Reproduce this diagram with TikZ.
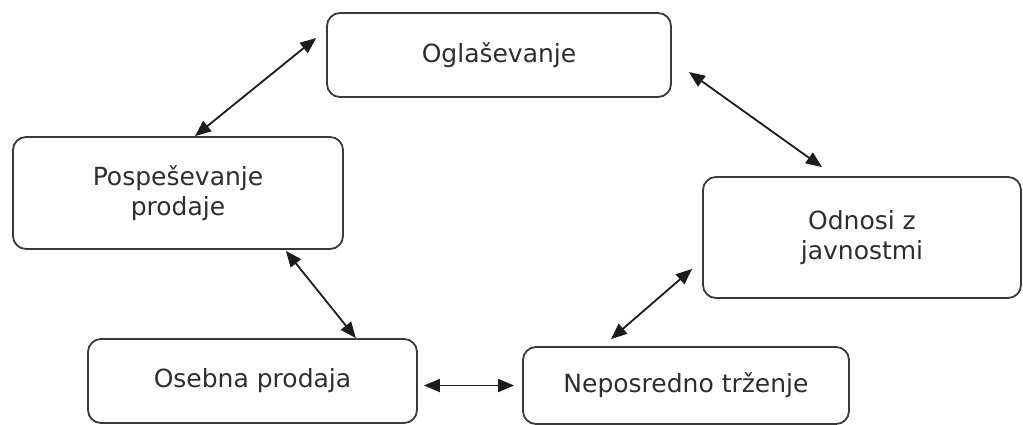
\documentclass[tikz,border=0pt]{standalone}
\usepackage{fontspec}
\setmainfont{DejaVu Sans}
\usetikzlibrary{arrows.meta}
\definecolor{boxline}{HTML}{3A3A3A}
\definecolor{boxtext}{HTML}{2E2E2E}
\definecolor{arrowcol}{HTML}{1C1C1C}
\begin{document}
\begin{tikzpicture}[x=1pt,y=-1pt,
  card/.style={draw=boxline, line width=1.8pt, rounded corners=13pt, fill=white,
    inner sep=0pt, align=center, text=boxtext,
    font=\fontsize{25}{29.5}\selectfont},
  link/.style={arrowcol, line width=1.8pt,
    {Triangle[length=16pt,width=13pt]}-{Triangle[length=16pt,width=13pt]}}]
  \useasboundingbox (0,0) rectangle (1023,425);

  % the five promotion tools
  \node[card, minimum width=344pt, minimum height=84pt]  (og) at (499,55)    {Oglaševanje};
  \node[card, minimum width=330pt, minimum height=112pt] (po) at (178,193)   {Pospeševanje\\prodaje};
  \node[card, minimum width=318pt, minimum height=121pt] (od) at (862,237.5) {Odnosi z\\javnostmi};
  \node[card, minimum width=329pt, minimum height=84pt]  (os) at (252.5,381) {Osebna prodaja};
  \node[card, minimum width=326pt, minimum height=77pt]  (ne) at (686,385.5) {Neposredno trženje};

  % two-way links around the ring
  \draw[link] ([xshift=-10pt,yshift=17pt]og.west) -- ([xshift=17pt]po.north);
  \draw[link] ([xshift=17pt,yshift=-17pt]og.east) -- ([xshift=-40pt,yshift=9pt]od.north);
  \draw[link] ([xshift=-58pt,yshift=-1pt]po.south east) -- ([xshift=-62pt]os.north east);
  \draw[link] ([xshift=6pt,yshift=-4.5pt]os.east) -- ([xshift=-8pt]ne.west);
  \draw[link] ([xshift=-10pt,yshift=30pt]od.south west) -- ([xshift=-75pt,yshift=7pt]ne.north);
\end{tikzpicture}
\end{document}
